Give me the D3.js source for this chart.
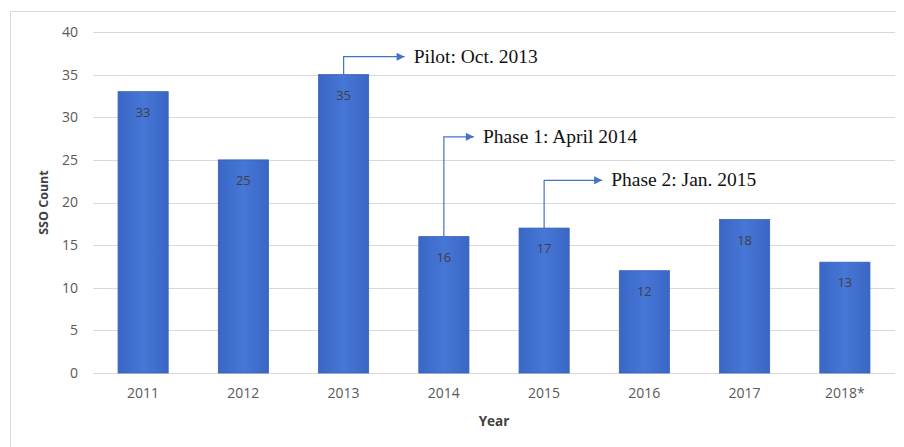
<!DOCTYPE html>
<html>
<head>
<meta charset="utf-8">
<script src="https://cdn.jsdelivr.net/npm/d3@7"></script>
<style>
  body { margin: 0; background: #fff; }
  .axis text { font-family: "Open Sans", sans-serif; font-size: 14px; fill: #595959; }
  .axis path, .axis line { display: none; }
</style>
</head>
<body>
<div id="chartArea"></div>
<script>
var years = ["2011", "2012", "2013", "2014", "2015", "2016", "2017", "2018*"];
var ssoCounts = [33, 25, 35, 16, 17, 12, 18, 13];
var yTicks = [0, 5, 10, 15, 20, 25, 30, 35, 40];

// annotations: label, year it points from, level (in counts) of the elbow, arm length
var noteLabels = ["Pilot: Oct. 2013", "Phase 1: April 2014", "Phase 2: Jan. 2015"];
var noteYears = ["2013", "2014", "2015"];
var noteLevels = [37.1, 27.7, 22.6];
var noteArms = [61, 30, 58];

var margin = { top: 32, right: 9, bottom: 74, left: 93 },
  width = 904 - margin.left - margin.right,
  height = 447 - margin.top - margin.bottom;

var svg = d3
  .select("#chartArea")
  .append("svg")
  .attr("width", 904)
  .attr("height", 447);

// frame of the chart area
svg.append("path")
  .attr("d", "M10.5,447 L10.5,11.5 L896,11.5")
  .attr("fill", "none")
  .attr("stroke", "#d9d9d9");

var defs = svg.append("defs");
var grad = defs.append("linearGradient").attr("id", "barGrad")
  .attr("x1", "0").attr("x2", "1").attr("y1", "0").attr("y2", "0");
grad.append("stop").attr("offset", "0%").attr("stop-color", "#3a67c6");
grad.append("stop").attr("offset", "50%").attr("stop-color", "#4676d6");
grad.append("stop").attr("offset", "100%").attr("stop-color", "#3a67c6");

defs.append("marker")
  .attr("id", "arrow")
  .attr("viewBox", "0 0 10 10")
  .attr("refX", 10).attr("refY", 5)
  .attr("markerWidth", 10).attr("markerHeight", 8)
  .attr("markerUnits", "userSpaceOnUse")
  .attr("orient", "auto")
  .append("path")
  .attr("d", "M0,0 L10,5 L0,10 Z")
  .attr("fill", "#4472c4");

var focus = svg.append("g")
  .attr("transform", "translate(" + margin.left + "," + margin.top + ")");

var x = d3.scaleBand().domain(years).range([0, width]).paddingInner(0.5).paddingOuter(0.25);
var y = d3.scaleLinear().domain([0, 40]).range([height, 0]);

// gridlines
focus.append("g")
  .selectAll("line")
  .data(yTicks)
  .enter()
  .append("line")
  .attr("x1", 0)
  .attr("x2", width)
  .attr("y1", function (d) { return Math.round(y(d)) + 0.5; })
  .attr("y2", function (d) { return Math.round(y(d)) + 0.5; })
  .attr("stroke", "#d9d9d9");

// bars
focus.append("g")
  .selectAll("rect")
  .data(ssoCounts)
  .enter()
  .append("rect")
  .attr("x", function (d, i) { return x(years[i]); })
  .attr("y", function (d) { return y(d); })
  .attr("width", x.bandwidth())
  .attr("height", function (d) { return height - y(d); })
  .attr("fill", "url(#barGrad)")
  .attr("stroke", "#3561b8")
  .attr("stroke-width", 0.8);

// data labels
focus.append("g")
  .selectAll("text")
  .data(ssoCounts)
  .enter()
  .append("text")
  .attr("x", function (d, i) { return x(years[i]) + x.bandwidth() / 2; })
  .attr("y", function (d) { return y(d) + 25; })
  .attr("text-anchor", "middle")
  .style("font-family", "'Open Sans', sans-serif")
  .style("font-size", "13px")
  .style("fill", "#404040")
  .text(function (d) { return d; });

var yAxis = d3.axisLeft(y).tickValues(yTicks).tickSize(0).tickPadding(15);
focus.append("g").attr("class", "axis").call(yAxis);

var xAxis = d3.axisBottom(x).tickSize(0).tickPadding(15);
focus.append("g")
  .attr("class", "axis")
  .attr("transform", "translate(0," + height + ")")
  .call(xAxis);

focus.append("text")
  .attr("x", width / 2)
  .attr("y", height + 53)
  .attr("text-anchor", "middle")
  .style("font-family", "'Open Sans', sans-serif")
  .style("font-size", "13.5px")
  .style("font-weight", "bold")
  .style("fill", "#404040")
  .text("Year");

focus.append("text")
  .attr("transform", "rotate(-90)")
  .attr("x", -height / 2)
  .attr("y", -45)
  .attr("text-anchor", "middle")
  .style("font-family", "'Open Sans', sans-serif")
  .style("font-size", "12.5px")
  .style("font-weight", "bold")
  .style("fill", "#404040")
  .text("SSO Count");

// annotation callouts
noteLabels.forEach(function (label, i) {
  var yr = noteYears[i];
  var cx = x(yr) + x.bandwidth() / 2;
  var top = y(ssoCounts[years.indexOf(yr)]);
  var elbow = y(noteLevels[i]);
  focus.append("path")
    .attr("d", "M" + cx + "," + top + " L" + cx + "," + elbow + " L" + (cx + noteArms[i]) + "," + elbow)
    .attr("fill", "none")
    .attr("stroke", "#4472c4")
    .attr("stroke-width", 1.2)
    .attr("marker-end", "url(#arrow)");
  focus.append("text")
    .attr("x", cx + noteArms[i] + 9)
    .attr("y", elbow + 6)
    .style("font-family", "'Liberation Serif', serif")
    .style("font-size", "19.5px")
    .style("fill", "#111")
    .text(label);
});
</script>
</body>
</html>
